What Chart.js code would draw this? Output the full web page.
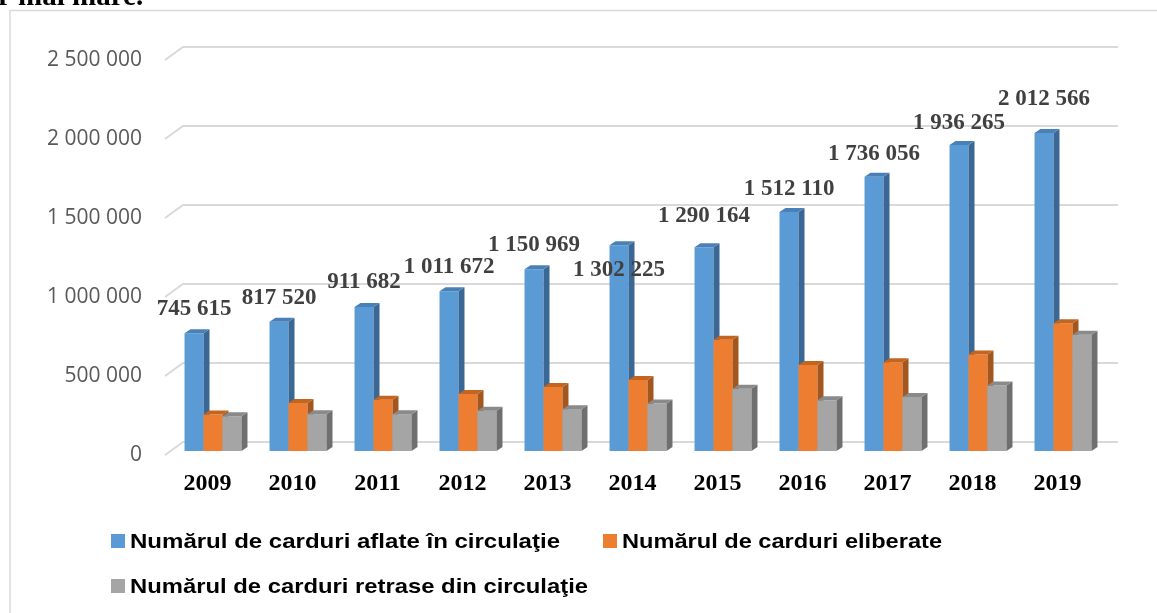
<!DOCTYPE html>
<html>
<head>
<meta charset="utf-8">
<script src="https://cdn.jsdelivr.net/npm/chart.js@4.4.1/dist/chart.umd.min.js"></script>
<style>
  html, body { margin: 0; padding: 0; background: #fff; }
  #wrap { position: relative; width: 1157px; height: 613px; }
</style>
</head>
<body>
<div id="wrap"><canvas id="cardChart" width="1157" height="613"></canvas></div>
<script>
const years = ['2009', '2010', '2011', '2012', '2013', '2014', '2015', '2016', '2017', '2018', '2019'];
const inCirculation = [745615, 817520, 911682, 1011672, 1150969, 1302225, 1290164, 1512110, 1736056, 1936265, 2012566];
const issued = [231000, 304000, 325000, 360000, 405000, 450000, 704000, 545000, 562000, 610000, 809000];
const withdrawn = [220000, 233000, 233000, 255000, 265000, 300000, 394000, 321000, 342000, 415000, 736000];
const seriesNames = [
    'Numărul de carduri aflate în circulaţie',
    'Numărul de carduri eliberate',
    'Numărul de carduri retrase din circulaţie'
];
const yTicks = [0, 500000, 1000000, 1500000, 2000000, 2500000];

// styling
const frontColors = ['#5b9bd5', '#ed7d31', '#a5a5a5'];
const sideColors = ['#3b6794', '#a4561f', '#6f6f6f'];
const capColors = ['#4a80b8', '#c4651f', '#8a8a8a'];
// vertical nudge of each value label relative to the top of its bar
const labelShift = [-24, -24, -25, -24, -24, 25, -31, -23, -23, -22, -34];

const WALL = { x: 18, y: 13 };     // depth of the back wall
const BAR_OFF = { x: 5.5, y: 4 };  // bars stand a little behind the front edge
const BAR_DEPTH = { x: 6, y: 4 };

const fmt = v => String(v).replace(/\B(?=(\d{3})+(?!\d))/g, ' ');

function poly(ctx, pts, color) {
    ctx.fillStyle = color;
    ctx.beginPath();
    ctx.moveTo(pts[0][0], pts[0][1]);
    for (let k = 1; k < pts.length; k++) ctx.lineTo(pts[k][0], pts[k][1]);
    ctx.closePath();
    ctx.fill();
}

const threeD = {
    id: 'threeD',
    beforeDatasetsDraw(chart) {
        const { ctx, chartArea, scales } = chart;
        ctx.save();

        // gridlines on the back wall, with the little diagonal on the left
        ctx.strokeStyle = '#d9d9d9';
        ctx.lineWidth = 2;
        yTicks.forEach(t => {
            const y = scales.y.getPixelForValue(t);
            ctx.beginPath();
            ctx.moveTo(chartArea.left, y);
            ctx.lineTo(chartArea.left + WALL.x, y - WALL.y);
            ctx.lineTo(chartArea.right + WALL.x, y - WALL.y);
            ctx.stroke();
        });

        // bars with side and top faces
        const metas = chart.data.datasets.map((d, i) => chart.getDatasetMeta(i));
        years.forEach((yr, j) => {
            metas.forEach((meta, i) => {
                const bar = meta.data[j];
                const x0 = bar.x - bar.width / 2 + BAR_OFF.x;
                const x1 = bar.x + bar.width / 2 + BAR_OFF.x;
                const yt = bar.y - BAR_OFF.y;
                const yb = bar.base - BAR_OFF.y;
                poly(ctx, [[x0, yt], [x1, yt], [x1, yb], [x0, yb]], frontColors[i]);
                poly(ctx, [[x1, yb], [x1 + BAR_DEPTH.x, yb - BAR_DEPTH.y], [x1 + BAR_DEPTH.x, yt - BAR_DEPTH.y], [x1, yt]], sideColors[i]);
                poly(ctx, [[x0, yt], [x0 + BAR_DEPTH.x, yt - BAR_DEPTH.y], [x1 + BAR_DEPTH.x, yt - BAR_DEPTH.y], [x1, yt]], capColors[i]);
            });
        });
        ctx.restore();
        return false;
    },
    afterDraw(chart) {
        const { ctx } = chart;
        ctx.save();

        // value labels above the blue bars
        ctx.font = 'bold 23px "Liberation Serif", serif';
        ctx.fillStyle = '#404040';
        ctx.textAlign = 'center';
        ctx.textBaseline = 'middle';
        const blue = chart.getDatasetMeta(0);
        blue.data.forEach((bar, j) => {
            ctx.fillText(fmt(inCirculation[j]), bar.x + BAR_OFF.x, bar.y - BAR_OFF.y + labelShift[j]);
        });

        // legend
        const spots = [[111, 541, 430], [603, 541, 320], [111, 586, 458]];
        ctx.font = 'bold 21px "Liberation Sans", Arial, sans-serif';
        ctx.textAlign = 'left';
        ctx.fillStyle = '#000';
        spots.forEach(([sx, sy, w], i) => {
            ctx.fillStyle = frontColors[i];
            ctx.fillRect(sx, sy - 7, 14, 14);
            ctx.fillStyle = '#000';
            const mw = ctx.measureText(seriesNames[i]).width;
            ctx.save();
            ctx.translate(sx + 19, sy + 1);
            ctx.scale(w / mw, 1);
            ctx.fillText(seriesNames[i], 0, 0);
            ctx.restore();
        });

        // chart frame
        ctx.strokeStyle = '#d9d9d9';
        ctx.lineWidth = 1.5;
        ctx.beginPath();
        ctx.moveTo(10, 613);
        ctx.lineTo(10, 10.5);
        ctx.lineTo(1157, 10.5);
        ctx.stroke();

        // the cut-off line of text above the chart
        ctx.font = 'bold 29px "Liberation Serif", serif';
        ctx.fillStyle = '#000';
        ctx.textBaseline = 'alphabetic';
        ctx.fillText('r mai mare.', -2, 5);
        ctx.restore();
    }
};

new Chart(document.getElementById('cardChart'), {
    type: 'bar',
    data: {
        labels: years,
        datasets: [
            { label: seriesNames[0], data: inCirculation, backgroundColor: frontColors[0] },
            { label: seriesNames[1], data: issued, backgroundColor: frontColors[1] },
            { label: seriesNames[2], data: withdrawn, backgroundColor: frontColors[2] }
        ]
    },
    options: {
        responsive: false,
        animation: false,
        layout: { padding: { left: 0, right: 57, top: 60, bottom: 118 } },
        datasets: { bar: { categoryPercentage: 0.67, barPercentage: 1 } },
        plugins: { legend: { display: false }, tooltip: { enabled: false } },
        scales: {
            x: {
                grid: { display: false, drawTicks: false },
                border: { display: false },
                ticks: {
                    color: '#000',
                    padding: 14,
                    maxRotation: 0,
                    font: { family: '"Liberation Serif", serif', size: 24, weight: 'bold' }
                },
                afterFit: s => { s.height = 40; }
            },
            y: {
                min: 0,
                max: 2500000,
                grid: { display: false, drawTicks: false },
                border: { display: false },
                ticks: {
                    stepSize: 500000,
                    padding: 23,
                    color: '#595959',
                    font: { family: '"Open Sans", sans-serif', size: 21 },
                    callback: v => fmt(v)
                },
                afterFit: s => { s.width = 165; }
            }
        }
    },
    plugins: [threeD]
});
</script>
</body>
</html>
